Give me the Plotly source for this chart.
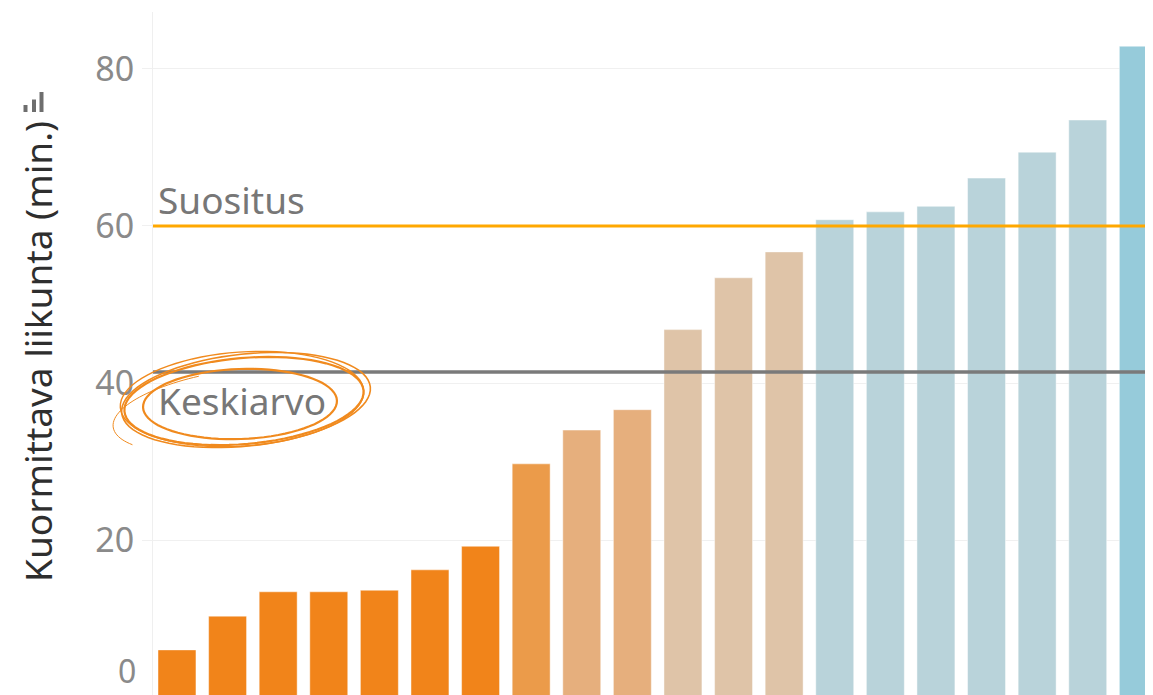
import math
import plotly.graph_objects as go

# ---- data ----
categories = [f"Ryhmä {i}" for i in range(1, 21)]
values = [6.0, 10.3, 13.4, 13.4, 13.6, 16.2, 19.2, 29.7, 34.0, 36.6,
          46.8, 53.4, 56.7, 60.8, 61.8, 62.5, 66.1, 69.4, 73.5, 82.9]
recommendation = 60        # Suositus
average = 41.4             # Keskiarvo
y_ticks = [20, 40, 60, 80]

# ---- styles ----
bar_colors = (["#F1841A"] * 7 + ["#EB9B4A"] + ["#E6AF7D"] * 2 +
              ["#DFC4A8"] * 3 + ["#B9D3DA"] * 6 + ["#96CBDA"])

# page body has an 8px margin; the figure is sized so it fits the window
OFF = 8
W, H = 1153 - OFF, 695 - OFF
ML, MR, MT, MB = 153 - OFF, 0, 12 - OFF, 0
PW, PH = W - ML - MR, H - MT - MB


def px(x):  # window pixel -> paper
    return (x - OFF - ML) / PW


def py(y):
    return (H - MB - (y - OFF)) / PH


fig = go.Figure()
fig.add_trace(go.Bar(
    x=categories, y=values,
    marker=dict(color=bar_colors, line=dict(color="rgba(255,255,255,0.45)", width=1)),
    hoverinfo="x+y",
))

shapes = []
# reference lines
shapes.append(dict(type="line", xref="paper", yref="y", x0=0, x1=1,
                   y0=recommendation, y1=recommendation,
                   line=dict(color="#FFA800", width=3), layer="above"))
shapes.append(dict(type="line", xref="paper", yref="y", x0=0, x1=1,
                   y0=average, y1=average,
                   line=dict(color="#7A7A7A", width=3.5), layer="above"))


# hand-drawn scribble around "Keskiarvo"
def ellipse_path(cx, cy, rx, ry, ang, a0=0.0, a1=2 * math.pi, n=80, close=True):
    t = math.radians(ang)
    pts = []
    for i in range(n + 1):
        a = a0 + (a1 - a0) * i / n
        ex, ey = rx * math.cos(a), ry * math.sin(a)
        X = cx + ex * math.cos(t) - ey * math.sin(t)
        Y = cy + ex * math.sin(t) + ey * math.cos(t)
        pts.append(f"{px(X):.5f},{py(Y):.5f}")
    return "M " + " L ".join(pts) + (" Z" if close else "")


loops = [
    (240, 404, 97, 35, -2, 2.2),
    (244, 401, 120, 43, -5, 2.2),
    (246, 400, 125, 46, -6, 1.6),
    (242, 399, 122, 47, -4, 1.4),
]
for cx, cy, rx, ry, ang, w in loops:
    shapes.append(dict(type="path", xref="paper", yref="paper",
                       path=ellipse_path(cx, cy, rx, ry, ang),
                       line=dict(color="#F08A1E", width=w), layer="above"))
shapes.append(dict(type="path", xref="paper", yref="paper",
                   path=ellipse_path(236, 410, 124, 40, -8, math.radians(150),
                                     math.radians(255), n=40, close=False),
                   line=dict(color="#F08A1E", width=1), layer="above"))

# sort icon next to axis title
for x0, x1, y0 in [(23.5, 27.5, 105), (32, 36, 99.5), (39.5, 43.5, 92)]:
    shapes.append(dict(type="rect", xref="paper", yref="paper",
                       x0=px(x0), x1=px(x1), y0=py(112), y1=py(y0),
                       fillcolor="#6E6E6E", line=dict(width=0)))

annotations = [
    dict(text="Suositus", xref="paper", yref="paper", x=px(156), y=py(199),
         xanchor="left", yanchor="middle", showarrow=False,
         font=dict(size=37, color="#777777")),
    dict(text="Keskiarvo", xref="paper", yref="paper", x=px(156), y=py(400),
         xanchor="left", yanchor="middle", showarrow=False,
         font=dict(size=37, color="#777777")),
    dict(text="0", xref="paper", yref="paper", x=px(138), y=py(670),
         xanchor="right", yanchor="middle", showarrow=False,
         font=dict(size=32, color="#8A8A8A")),
    dict(text="Kuormittava liikunta (min.)", xref="paper", yref="paper",
         x=px(37), y=py(352), textangle=-90, xanchor="center", yanchor="middle",
         showarrow=False, font=dict(size=37, color="#2E2E2E")),
]

fig.update_layout(
    width=W, height=H,
    margin=dict(l=ML, r=MR, t=MT, b=MB, pad=0, autoexpand=False),
    paper_bgcolor="white", plot_bgcolor="white",
    font=dict(family="Noto Sans, Open Sans, sans-serif"),
    showlegend=False, bargap=0.25,
    shapes=shapes, annotations=annotations,
    xaxis=dict(range=[-0.474, 19.29], showticklabels=False, showgrid=False,
               zeroline=False, ticks="", fixedrange=True, automargin=False),
    yaxis=dict(range=[0.255, 87.26], tickvals=y_ticks, showgrid=True,
               gridcolor="#F0F0F0", gridwidth=1, zeroline=False,
               showline=True, linecolor="#EFEFEF", linewidth=1,
               ticks="outside", ticklen=10, tickcolor="#F0F0F0", automargin=False,
               tickfont=dict(size=34, color="#8A8A8A"), ticklabelstandoff=1),
)

fig.write_html("out.html")
